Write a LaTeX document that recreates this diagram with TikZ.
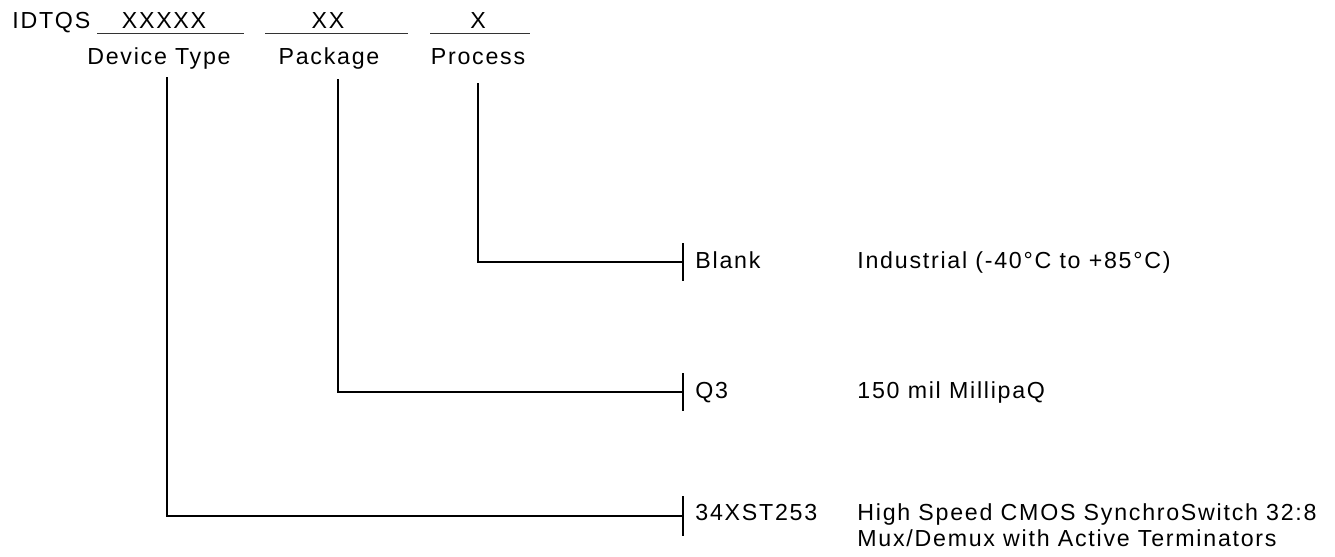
\documentclass[tikz,border=0pt]{standalone}
\usepackage{fontspec}
\setmainfont{Liberation Sans}[LetterSpace=7.5]
\usetikzlibrary{positioning}

\begin{document}
\begin{tikzpicture}[
    x=0.5pt, y=-0.5pt,
    txt/.style={inner sep=0pt, font=\fontsize{11.6}{12}\selectfont},
    field/.style={txt, anchor=base},
    code/.style={txt, anchor=base west},
    desc/.style={txt, anchor=base west},
    rule/.style={line width=0.5pt, black!80},
    conn/.style={line width=0.6pt},
    tick/.style={line width=1pt}
]
    \useasboundingbox (0,0) rectangle (1335,557);

    % part number fields
    \node[code] (prefix) at (12,28) {IDTQS};
    \node[field] (devx) at (164,28) {XXXXX};
    \node[field] (pkgx) at (328,28) {XX};
    \node[field] (procx) at (478,28) {X};
    \draw[rule] (97,33) -- (244,33);
    \draw[rule] (265,33) -- (408,33);
    \draw[rule] (430,33) -- (530,33);

    \node[field] (devlbl) at (159,64) {Device Type};
    \node[field] (pkglbl) at (329,64) {Package};
    \node[field] (proclbl) at (478,64) {Process};

    % branch points
    \coordinate (devtop) at (167,77);
    \coordinate (pkgtop) at (338,79);
    \coordinate (proctop) at (478,83);
    \coordinate (jproc) at (683,262);
    \coordinate (jpkg) at (683,392);
    \coordinate (jdev) at (683,516);

    \draw[conn] (proctop) |- (jproc);
    \draw[conn] (pkgtop) |- (jpkg);
    \draw[conn] (devtop) |- (jdev);
    \draw[tick] (jproc) ++(0,-19) -- ++(0,38);
    \draw[tick] (jpkg) ++(0,-19) -- ++(0,38);
    \draw[tick] (jdev) ++(0,-20) -- ++(0,40);

    % codes and meanings
    \node[code] (blank) at (695,268) {Blank};
    \node[code] (q3) at (695,398) {Q3};
    \node[code] (xst) at (695,520) {34XST253};
    \node[desc] (ind) at (857,268) {Industrial (-40°C to +85°C)};
    \node[desc] (mil) at (857,398) {150 mil MillipaQ};
    \node[desc] (sync) at (857,520) {High Speed CMOS SynchroSwitch 32:8};
    \node[desc] (mux) at (857,546) {Mux/Demux with Active Terminators};
\end{tikzpicture}
\end{document}
